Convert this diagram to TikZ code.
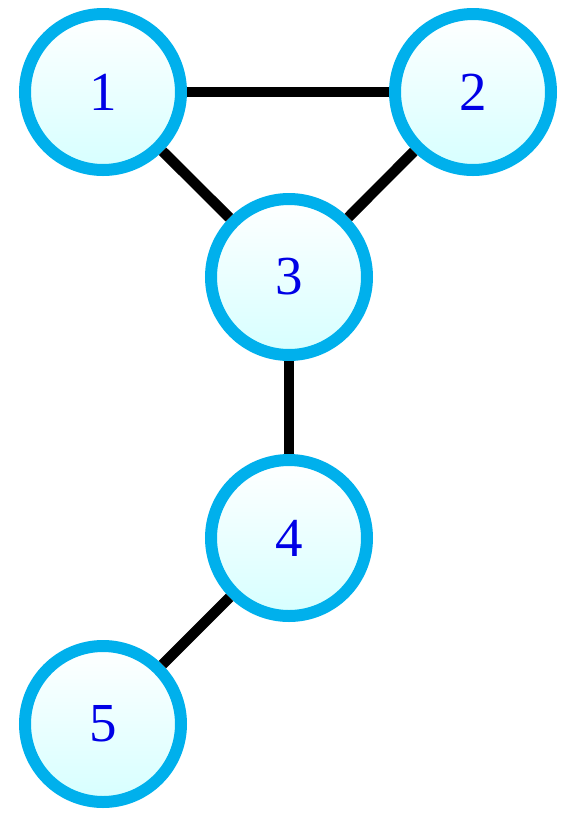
\documentclass[tikz,border=0pt]{standalone}
\usepackage{fontspec}
\setmainfont{Liberation Serif}
\definecolor{ringblue}{RGB}{0,176,236}
\definecolor{numblue}{RGB}{0,0,230}
\definecolor{fillcyan}{RGB}{214,255,255}
\begin{document}
\begin{tikzpicture}[x=1pt,y=-1pt,
  vertex/.style={circle, draw=ringblue, line width=12pt, minimum size=156pt,
    inner sep=0pt, top color=white, bottom color=fillcyan, text=numblue,
    font=\fontsize{55}{60}\selectfont},
  edge/.style={line width=10.5pt, black}]
\useasboundingbox (0,0) rectangle (564,815);
\node[vertex] (n1) at (103,92) {1};
\node[vertex] (n2) at (473,92) {2};
\node[vertex] (n3) at (289,277) {3};
\node[vertex] (n4) at (289,538) {4};
\node[vertex] (n5) at (103,724) {5};
\begin{scope}[on background layer/.try]
\end{scope}
\draw[edge] (n1) -- (n2);
\draw[edge] (n1) -- (n3);
\draw[edge] (n2) -- (n3);
\draw[edge] (n3) -- (n4);
\draw[edge] (n4) -- (n5);
\end{tikzpicture}
\end{document}
